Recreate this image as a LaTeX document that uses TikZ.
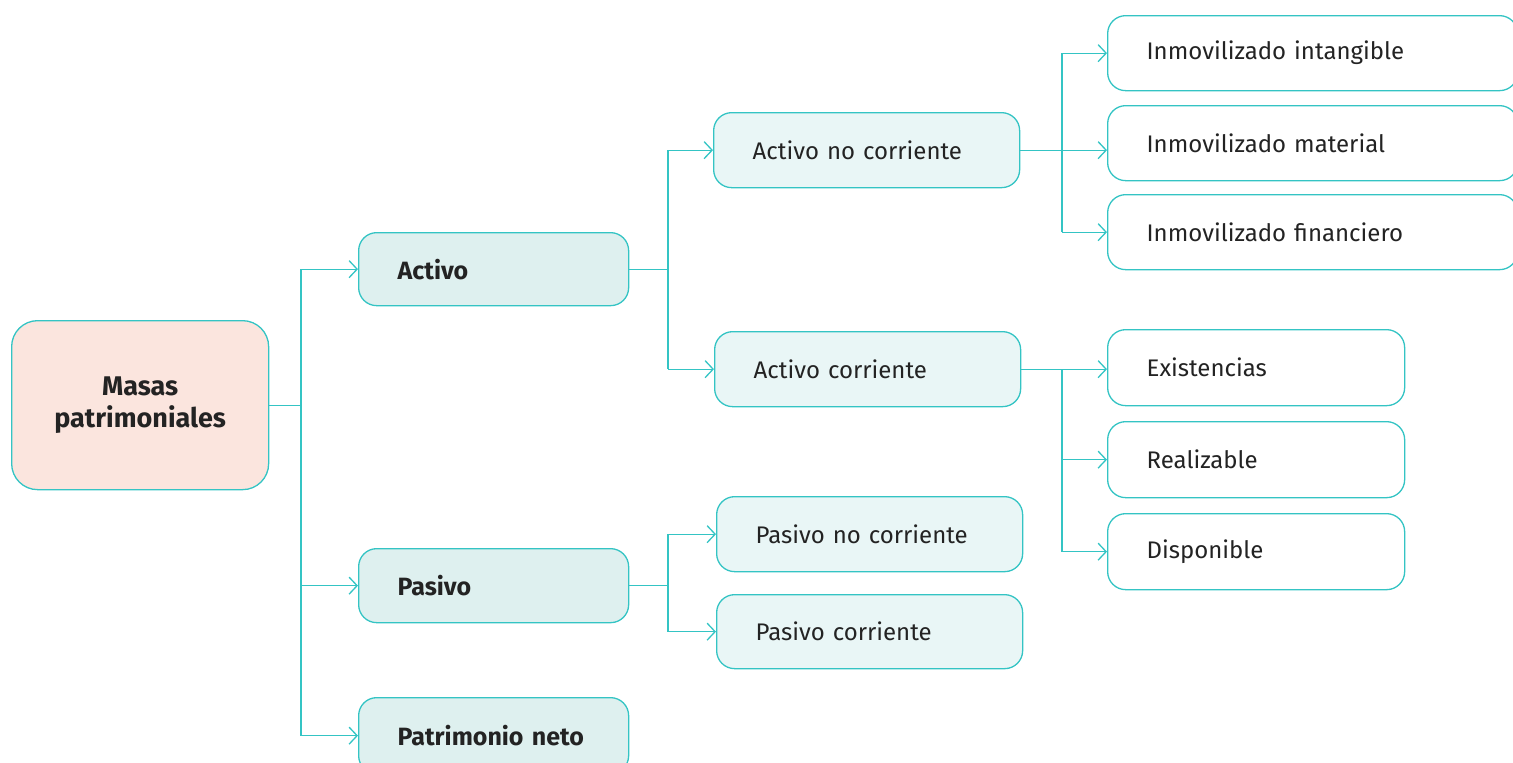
\documentclass[tikz,border=0pt]{standalone}
\usepackage{fontspec}
\setmainfont{Fira Sans}
\usetikzlibrary{arrows.meta}
\definecolor{teal}{RGB}{52,196,196}
\definecolor{pinkfill}{RGB}{251,229,222}
\definecolor{midfill}{RGB}{222,240,239}
\definecolor{lightfill}{RGB}{233,246,246}
\definecolor{txt}{RGB}{35,35,35}
\tikzset{
  x=1pt, y=-1pt,
  box/.style={draw=teal, line width=1.3pt, rounded corners=18pt, text=txt,
    font=\fontsize{24}{28}\selectfont, align=left, inner xsep=39pt, inner ysep=0pt,
    minimum height=#1, anchor=north west},
  box/.default=75pt,
  boldlabel/.style={font=\bfseries\fontsize{25}{30}\selectfont},
  conn/.style={draw=teal, line width=1.3pt},
  arr/.style={conn, -{Straight Barb[length=8pt,width=17pt,line width=1.3pt]}},
}
\begin{document}
\begin{tikzpicture}
\useasboundingbox (0,0) rectangle (1513,763);
% root
\node[box=169pt, fill=pinkfill, rounded corners=26pt, text width=257pt-78pt, align=center, font=\bfseries\fontsize{27}{32}\selectfont] (masas) at (11,320) {Masas\\patrimoniales};
% level 1
\node[box=73pt, fill=midfill, text width=270pt-78pt, boldlabel] (activo) at (358,232) {Activo};
\node[box=74pt, fill=midfill, text width=270pt-78pt, boldlabel] (pasivo) at (358,548) {Pasivo};
\node[box=76pt, fill=midfill, text width=270pt-78pt, boldlabel] (patri) at (358,697) {\mbox{Patrimonio neto}};
% level 2
\node[box, fill=lightfill, text width=306pt-78pt] (anc) at (713,112) {Activo no corriente};
\node[box, fill=lightfill, text width=306pt-78pt] (ac) at (714,331) {Activo corriente};
\node[box, fill=lightfill, text width=306pt-78pt] (pnc) at (716,496) {Pasivo no corriente};
\node[box=74pt, fill=lightfill, text width=306pt-78pt] (pc) at (716,594) {Pasivo corriente};
% level 3
\node[box, fill=white, text width=410pt-78pt] (ii) at (1107,15) {Inmovilizado intangible};
\node[box, fill=white, text width=410pt-78pt] (im) at (1107,105) {Inmovilizado material};
\node[box, fill=white, text width=410pt-78pt] (if) at (1107,194) {Inmovilizado financiero};
\node[box=76pt, fill=white, text width=297pt-78pt] (ex) at (1107,329) {Existencias};
\node[box=76pt, fill=white, text width=297pt-78pt] (re) at (1107,421) {Realizable};
\node[box=76pt, fill=white, text width=297pt-78pt] (di) at (1107,513) {Disponible};
% bus coordinates
\coordinate (b1) at (301,0);
\coordinate (b2) at (668,0);
\coordinate (b3) at (1062,0);
% root connectors
\draw[conn] (masas.east) -- (masas.east -| b1);
\draw[conn] (b1 |- activo.west) -- (b1 |- patri.west);
\draw[arr] (b1 |- activo.west) -- (activo.west);
\draw[arr] (b1 |- pasivo.west) -- (pasivo.west);
\draw[arr] (b1 |- patri.west) -- (patri.west);
% activo
\draw[conn] (activo.east) -- (activo.east -| b2);
\draw[conn] (b2 |- anc.west) -- (b2 |- ac.west);
\draw[arr] (b2 |- anc.west) -- (anc.west);
\draw[arr] (b2 |- ac.west) -- (ac.west);
% pasivo
\draw[conn] (pasivo.east) -- (pasivo.east -| b2);
\draw[conn] (b2 |- pnc.west) -- (b2 |- pc.west);
\draw[arr] (b2 |- pnc.west) -- (pnc.west);
\draw[arr] (b2 |- pc.west) -- (pc.west);
% activo no corriente
\draw[arr] (anc.east) -- (anc.east -| im.west);
\draw[conn] (b3 |- ii.west) -- (b3 |- if.west);
\draw[arr] (b3 |- ii.west) -- (ii.west);
\draw[arr] (b3 |- if.west) -- (if.west);
% activo corriente
\draw[arr] (ac.east) -- (ac.east -| ex.west);
\draw[conn] (b3 |- ac.east) -- (b3 |- di.west);
\draw[arr] (b3 |- re.west) -- (re.west);
\draw[arr] (b3 |- di.west) -- (di.west);
\end{tikzpicture}
\end{document}
